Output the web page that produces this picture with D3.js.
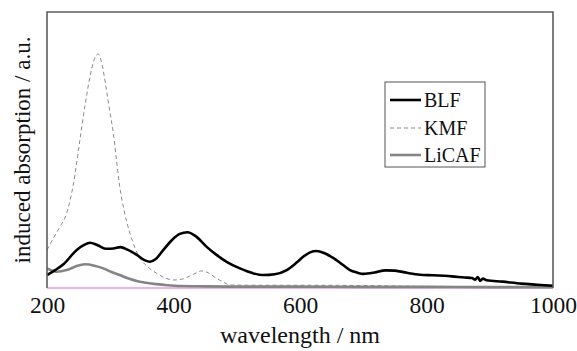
<!DOCTYPE html>
<html>
<head>
<meta charset="utf-8">
<script src="https://cdn.jsdelivr.net/npm/d3@7"></script>
<style>
  body { margin: 0; background: #fff; }
  svg { display: block; font-family: "Liberation Serif", "Times New Roman", serif; }
</style>
</head>
<body>
<svg id="chart" width="577" height="351"></svg>
<script>
// wavelength (nm), induced absorption (a.u.)
const blf = [
  [200, 4.7], [213, 6.5], [226, 8.6], [247, 13.8], [258, 15.5], [268, 16.4],
  [280, 15.5], [294, 14.2], [305, 14.3], [316, 14.8], [328, 13.8], [342, 12.0],
  [355, 10.0], [363, 9.5], [372, 10.5], [384, 13.8], [398, 17.5], [410, 19.6],
  [422, 20.2], [435, 18.8], [452, 15.0], [468, 12.0], [484, 9.5], [505, 7.1],
  [525, 5.4], [542, 4.7], [560, 5.0], [579, 6.5], [595, 9.3], [605, 11.3],
  [616, 12.9], [626, 13.4], [638, 12.7], [653, 10.8], [667, 8.5], [679, 6.5],
  [690, 5.6], [700, 5.1], [718, 5.6], [735, 6.4], [750, 6.3], [769, 5.5],
  [790, 4.8], [810, 4.6], [840, 4.2], [860, 3.8], [872, 3.6], [877, 3.0],
  [881, 4.0], [885, 2.6], [889, 3.4], [895, 2.8], [920, 2.3], [950, 1.6],
  [975, 1.2], [1000, 0.8]
];
const kmf = [
  [200, 13.8], [210, 18], [220, 22], [231, 27], [242, 38], [252, 53.6],
  [260, 66], [268, 76.6], [275, 83], [281, 84.8], [287, 81], [294, 71.7],
  [300, 63], [305, 56], [310, 46], [315, 36.7], [322, 28], [331, 19.9],
  [340, 14], [347, 10.8], [360, 7.5], [373, 5.4], [387, 3.6], [400, 2.9],
  [415, 3.3], [430, 4.8], [445, 6.2], [455, 5.5], [468, 3.5], [480, 2.0],
  [489, 1.1], [520, 1.0], [600, 1.0], [700, 0.9], [800, 0.6], [900, 0.5],
  [1000, 0.4]
];
const licaf = [
  [200, 7.1], [208, 6.3], [215, 5.9], [231, 6.5], [245, 7.8], [260, 8.6],
  [275, 8.1], [289, 7.1], [302, 5.8], [315, 4.7], [328, 3.5], [342, 2.5],
  [357, 1.9], [373, 1.4], [390, 1.0], [410, 0.7], [450, 0.6], [500, 0.5],
  [600, 0.5], [700, 0.4], [800, 0.4], [900, 0.3], [1000, 0.3]
];
const xTicks = [200, 400, 600, 800, 1000];
const legendNames = ['BLF', 'KMF', 'LiCAF'];

const svg = d3.select('#chart');
const plotLeft = 47, plotRight = 553, plotTop = 12, plotBottom = 288;

const x = d3.scaleLinear().domain([200, 1000]).range([plotLeft, plotRight]);
const y = d3.scaleLinear().domain([0, 100]).range([plotBottom, plotTop]);

const line = d3.line()
  .x(d => x(d[0]))
  .y(d => y(d[1]))
  .curve(d3.curveMonotoneX);

const styles = [
  { data: blf, stroke: '#000', width: 2.6, dash: null },
  { data: kmf, stroke: '#8a8a8a', width: 1, dash: '4,3' },
  { data: licaf, stroke: '#858585', width: 2.6, dash: null }
];

// zero line (pink)
svg.append('line')
  .attr('x1', plotLeft).attr('x2', plotRight)
  .attr('y1', y(0)).attr('y2', y(0))
  .attr('stroke', '#e59be5').attr('stroke-width', 1.6);

// draw KMF and LiCAF first, BLF on top
[styles[1], styles[2], styles[0]].forEach(s => {
  svg.append('path')
    .datum(s.data)
    .attr('fill', 'none')
    .attr('stroke', s.stroke)
    .attr('stroke-width', s.width)
    .attr('stroke-dasharray', s.dash)
    .attr('stroke-linejoin', 'round')
    .attr('d', line);
});

// frame: top, left, right
svg.append('path')
  .attr('d', `M${plotLeft},${plotBottom}V${plotTop}H${plotRight}V${plotBottom}`)
  .attr('fill', 'none')
  .attr('stroke', '#5c5c5c')
  .attr('stroke-width', 1.6);

const axisX = d3.axisBottom(x).tickValues(xTicks).tickSize(0).tickFormat(d3.format('d'));
const gx = svg.append('g')
  .attr('transform', `translate(0,${plotBottom})`)
  .call(axisX);
gx.select('.domain').remove();
gx.selectAll('text')
  .attr('y', 25)
  .attr('dy', 0)
  .attr('fill', '#111')
  .style('font-size', '23.5px')
  .style('font-family', '"Liberation Serif", serif');

svg.append('text')
  .attr('x', (plotLeft + plotRight) / 2)
  .attr('y', 343)
  .attr('text-anchor', 'middle')
  .attr('fill', '#111')
  .style('font-size', '24px')
  .text('wavelength / nm');

svg.append('text')
  .attr('transform', `translate(30,${(plotTop + plotBottom) / 2}) rotate(-90)`)
  .attr('text-anchor', 'middle')
  .attr('fill', '#111')
  .style('font-size', '23px')
  .text('induced absorption / a.u.');

// legend
const lg = svg.append('g').attr('transform', 'translate(385,82)');
lg.append('rect')
  .attr('width', 100).attr('height', 85)
  .attr('fill', '#fff')
  .attr('stroke', '#555').attr('stroke-width', 1);
const rowY = [18, 46, 73];
legendNames.forEach((name, i) => {
  const s = styles[i];
  lg.append('line')
    .attr('x1', 5).attr('x2', 36)
    .attr('y1', rowY[i]).attr('y2', rowY[i])
    .attr('stroke', s.stroke)
    .attr('stroke-width', s.width)
    .attr('stroke-dasharray', s.dash);
  lg.append('text')
    .attr('x', 39).attr('y', rowY[i] + 7)
    .attr('fill', '#111')
    .style('font-size', '20px')
    .text(name);
});
</script>
</body>
</html>
